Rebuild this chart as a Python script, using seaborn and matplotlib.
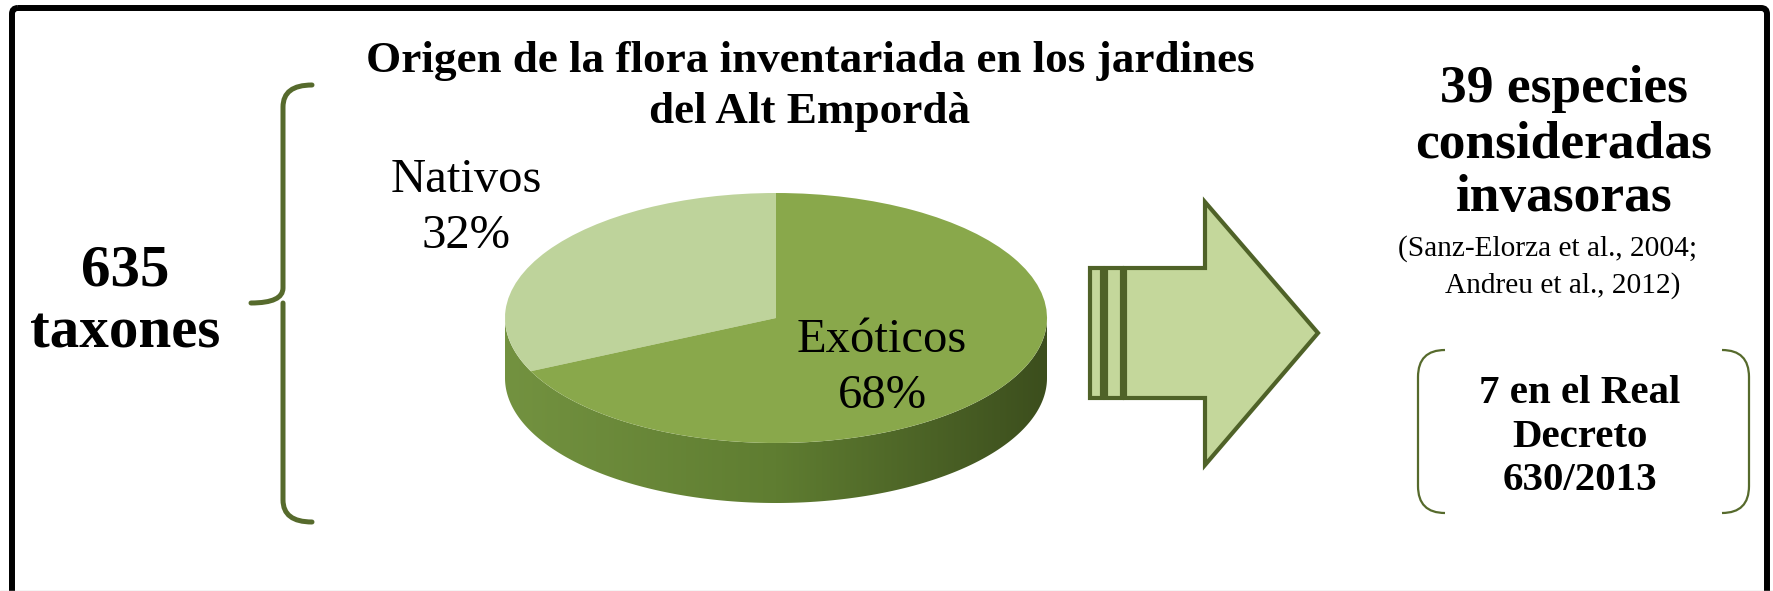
import numpy as np
import seaborn as sns
import matplotlib.pyplot as plt
from matplotlib.patches import Polygon, Rectangle, FancyBboxPatch, PathPatch
from matplotlib.path import Path

# pie data
origin_labels = ["Nativos", "Exóticos"]
origin_pct = [32, 68]

title_lines = ["Origen de la flora inventariada en los jardines", "del Alt Empordà"]
total_lines = ["635", "taxones"]
invasive_lines = ["39 especies", "consideradas", "invasoras"]
ref_lines = ["(Sanz-Elorza et al., 2004;", "Andreu et al., 2012)"]
decree_lines = ["7 en el Real", "Decreto", "630/2013"]

LIGHT = "#bed39b"
MID = "#89a84b"
DARK = "#4f6228"
ARROW_FILL = "#c4d79b"
OLIVE = "#566a2c"

sns.set_theme(style="white")
plt.rcParams['font.family'] = ['Liberation Serif', 'DejaVu Serif']
plt.rcParams['text.color'] = 'black'

W, H = 1773, 591
fig = plt.figure(figsize=(W / 100, H / 100), dpi=100)

# background axes in pixel coords
bg = fig.add_axes([0, 0, 1, 1])
bg.set_xlim(0, W)
bg.set_ylim(H, 0)
bg.axis("off")

# frame
bg.add_patch(FancyBboxPatch((12, 8), 1755, 600, boxstyle="round,pad=0,rounding_size=6",
                            fill=False, ec="black", lw=4.3))
bg.axhline(590.5, color="#c8c8c8", lw=1)

# title
for y, line in zip([72, 123], title_lines):
    bg.text(810, y, line, ha="center", va="baseline", fontsize=32.5, fontweight="bold")

# left total + brace
for y, line in zip([285, 348], total_lines):
    bg.text(125, y, line, ha="center", va="baseline", fontsize=42.5, fontweight="bold")

brace = Path([(312, 85), (283, 85), (283, 107), (283, 288), (283, 303), (251, 303),
              (283, 303), (283, 318), (283, 500), (283, 522), (312, 522)],
             [Path.MOVETO, Path.CURVE3, Path.CURVE3, Path.LINETO, Path.CURVE3, Path.CURVE3,
              Path.MOVETO, Path.CURVE3, Path.LINETO, Path.CURVE3, Path.CURVE3])
bg.add_patch(PathPatch(brace, fill=False, ec=OLIVE, lw=3.6, capstyle="round"))

# arrow
bg.add_patch(Polygon([(1125, 268), (1205, 268), (1205, 202), (1318, 333), (1205, 465),
                      (1205, 398), (1125, 398)], closed=True, fc=ARROW_FILL, ec=DARK, lw=3))
bg.add_patch(Rectangle((1090, 268), 12, 130, fc=ARROW_FILL, ec=DARK, lw=3))
bg.add_patch(Rectangle((1106, 268), 16, 130, fc=ARROW_FILL, ec=DARK, lw=3))

# right side text
for y, line in zip([102, 157, 211], invasive_lines):
    bg.text(1564, y, line, ha="center", va="baseline", fontsize=38.5, fontweight="bold")
for (x, y), line in zip([(1548, 256), (1563, 293)], ref_lines):
    bg.text(x, y, line, ha="center", va="baseline", fontsize=21.2)

for x0, sgn in [(1418, 1), (1749, -1)]:
    p = Path([(x0 + 27 * sgn, 350), (x0, 350), (x0, 377), (x0, 486), (x0, 513), (x0 + 27 * sgn, 513)],
             [Path.MOVETO, Path.CURVE3, Path.CURVE3, Path.LINETO, Path.CURVE3, Path.CURVE3])
    bg.add_patch(PathPatch(p, fill=False, ec=OLIVE, lw=1.6))
for y, line in zip([403, 447, 490], decree_lines):
    bg.text(1580, y, line, ha="center", va="baseline", fontsize=29.5, fontweight="bold")

# pie axes: ellipse centre (776, 318), a=271 px, b=125 px
cx, cy, a, b = 776, 318, 271, 125
depth = 60 / b
xl, yl_top, yl_bot = 1.2, 1.2, 1.8
ax = fig.add_axes([(cx - xl * a) / W, 1 - (cy + yl_bot * b) / H,
                   2 * xl * a / W, (yl_top + yl_bot) * b / H])
ax.axis("off")

# side of the 3D pie with a horizontal gradient
t = np.linspace(np.pi, 2 * np.pi, 300)
side_x = np.concatenate([np.cos(t), np.cos(t[::-1])])
side_y = np.concatenate([np.sin(t), np.sin(t[::-1]) - depth])
side = Polygon(np.column_stack([side_x, side_y]), closed=True, fc="none", ec="none")
ax.add_patch(side)
grad_cmap = sns.blend_palette(["#739240", "#5f7d31", "#3c4e1d"], as_cmap=True)
img = ax.imshow(np.linspace(0, 1, 256)[None, :], cmap=grad_cmap, aspect="auto",
                extent=[-1, 1, -1 - depth, 0], zorder=1)
img.set_clip_path(side)

wedges, _ = ax.pie(origin_pct, colors=[LIGHT, MID], startangle=90, counterclock=True,
                   radius=1, wedgeprops=dict(linewidth=0))
for w in wedges:
    w.set_zorder(2)
ax.set_aspect("auto")
ax.set_xlim(-xl, xl)
ax.set_ylim(-yl_bot, yl_top)

# slice labels (figure level so they sit above the pie)
for (x, y), lab, pct in zip([(466, 192), (882, 352)], origin_labels, origin_pct):
    fig.text(x, y, lab, transform=bg.transData, ha="center", va="baseline", fontsize=35)
    fig.text(x, y + 56, f"{pct}%", transform=bg.transData, ha="center", va="baseline",
             fontsize=35)

fig.savefig("out.png", dpi=100)
